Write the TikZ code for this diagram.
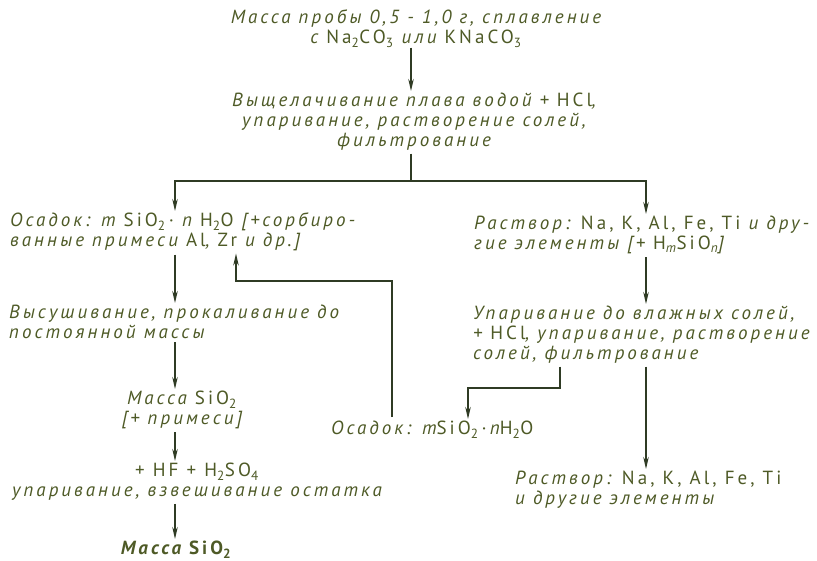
\documentclass[tikz,border=0pt]{standalone}
\usepackage{fontspec}
\setmainfont{PT Sans}[LetterSpace=16]
\usepackage{tikz}
\usetikzlibrary{calc,arrows.meta}
\definecolor{ink}{HTML}{4E5A26}
\definecolor{linec}{HTML}{2F3B24}
\newcommand{\up}[1]{{\upshape #1}}
\newcommand{\lo}[1]{\textsubscript{#1}}
\tikzset{
  txt/.style={text=ink, font=\fontsize{19}{20}\selectfont\itshape, inner sep=0pt},
  txtl/.style={txt, align=left, anchor=north west},
  txtc/.style={txt, align=center, anchor=north},
  seg/.style={draw=linec, line width=1.3pt, line join=miter},
  flow/.style={seg, -{Stealth[length=12pt,width=5.5pt]}, shorten >=2pt},
}

\begin{document}
\begin{tikzpicture}[x=1pt,y=-1pt]
  \useasboundingbox (0,0) rectangle (817,561);
  \fill[white] (0,0) rectangle (817,561);

  % columns of the connectors
  \coordinate (lft) at (175,181);
  \coordinate (fork) at (411,181);
  \coordinate (rgt) at (646,181);
  \coordinate (back) at (392,281);
  \coordinate (rise) at (236,281);
  \coordinate (drop) at (560,388);
  \coordinate (pin) at (468,388);

  \node[txtc] (prob) at (416,10) {Масса пробы 0,5 - 1,0 г, сплавление\\с \up{Na\lo2CO\lo3} или \up{KNaCO\lo3}};
  \node[txtc] (leach) at (414,93) {Выщелачивание плава водой + \up{HCl},\\упаривание, растворение солей,\\фильтрование};

  \node[txtl] (osad1) at (10,213) {Осадок: m \up{SiO\lo2\,·} n \up{H\lo2O} [+сорбиро-\\ванные примеси \up{Al}, \up{Zr} и др.]};
  \node[txtl] (rastv1) at (474,216) {Раствор: \up{Na, K, Al, Fe, Ti} и дру-\\гие элементы [+ \up{H\lo{\itshape m}SiO\lo{\itshape n}}]};

  \node[txtl] (dry) at (9,305) {Высушивание, прокаливание до\\постоянной массы};
  \node[txtc] (massimp) at (182,391) {Масса \up{SiO\lo2}\\{}[+ примеси]};
  \node[txtc] (hf) at (197,463) {\up{+ HF + H\lo2SO\lo4}\\упаривание, взвешивание остатка};
  \node[txtc, font=\fontsize{19}{20}\selectfont\itshape\bfseries] (mass) at (176,541) {Масса \up{SiO\lo2}};

  \node[txtl] (evap) at (473,306) {Упаривание до влажных солей,\\+ \up{HCl}, упаривание, растворение\\солей, фильтрование};
  \node[txtl] (osad2) at (331,421) {Осадок: m\up{SiO\lo2\,·\,}n\up{H\lo2O}};
  \node[txtl] (rastv2) at (515,471) {Раствор: \up{Na, K, Al, Fe, Ti}\\и другие элементы};

  \draw[flow] (prob.south -| fork) -- (leach.north -| fork);
  \draw[seg, shorten <=3pt] (leach.south -| fork) -- (fork);
  \draw[flow] (fork) -- (lft) -- (lft |- osad1.north);
  \draw[flow] (fork) -- (rgt) -- (rgt |- rastv1.north);

  \draw[flow, shorten <=3pt] (lft |- osad1.south) -- (lft |- dry.north);
  \draw[flow, shorten <=3pt] (lft |- dry.south) -- (lft |- massimp.north);
  \draw[flow, shorten <=3pt] (lft |- massimp.south) -- (lft |- hf.north);
  \draw[flow, shorten <=3pt] (lft |- hf.south) -- (lft |- mass.north);

  \draw[flow, shorten <=3pt] (rgt |- rastv1.south) -- (rgt |- evap.north);
  \draw[flow, shorten <=3pt] (rgt |- evap.south) -- (rgt |- rastv2.north);
  \draw[flow, shorten <=3pt] (drop |- evap.south) -- (drop) -- (pin) -- (pin |- osad2.north);

  \draw[flow, shorten <=4pt] (back |- osad2.north) -- (back) -- (rise) -- (rise |- osad1.south);
\end{tikzpicture}
\end{document}
